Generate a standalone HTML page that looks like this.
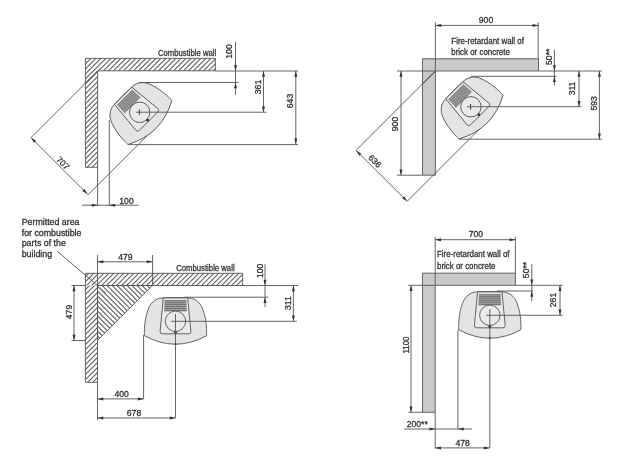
<!DOCTYPE html>
<html><head><meta charset="utf-8"><style>
html,body{margin:0;padding:0;background:#fff;width:624px;height:460px;overflow:hidden}
svg{display:block}
text{font-family:"Liberation Sans",sans-serif;stroke:#333;stroke-width:0.3px}
svg{filter:grayscale(1) blur(0.3px)}
</style></head><body>
<svg width="624" height="460" viewBox="0 0 624 460">
<defs><clipPath id="tlw"><polygon points="85.40,58.40 215.40,58.40 215.40,70.80 97.70,70.80 97.70,167.30 85.40,167.30"/></clipPath><clipPath id="blw"><polygon points="85.40,273.30 242.70,273.30 242.70,285.50 85.40,285.50"/></clipPath><clipPath id="blw2"><polygon points="85.40,285.50 97.50,285.50 97.50,382.30 85.40,382.30"/></clipPath><clipPath id="blt"><polygon points="97.50,285.50 152.40,285.50 97.50,340.40"/></clipPath></defs>
<rect width="624" height="460" fill="#fff"/>
<polygon points="85.4,58.4 215.4,58.4 215.4,70.8 97.7,70.8 97.7,167.3 85.4,167.3" fill="#fff"/>
<g clip-path="url(#tlw)" stroke="#5a5a5a" stroke-width="1.05">
<line x1="81.90" y1="57.40" x2="-29.00" y2="168.30"/>
<line x1="86.90" y1="57.40" x2="-24.00" y2="168.30"/>
<line x1="91.90" y1="57.40" x2="-19.00" y2="168.30"/>
<line x1="96.90" y1="57.40" x2="-14.00" y2="168.30"/>
<line x1="101.90" y1="57.40" x2="-9.00" y2="168.30"/>
<line x1="106.90" y1="57.40" x2="-4.00" y2="168.30"/>
<line x1="111.90" y1="57.40" x2="1.00" y2="168.30"/>
<line x1="116.90" y1="57.40" x2="6.00" y2="168.30"/>
<line x1="121.90" y1="57.40" x2="11.00" y2="168.30"/>
<line x1="126.90" y1="57.40" x2="16.00" y2="168.30"/>
<line x1="131.90" y1="57.40" x2="21.00" y2="168.30"/>
<line x1="136.90" y1="57.40" x2="26.00" y2="168.30"/>
<line x1="141.90" y1="57.40" x2="31.00" y2="168.30"/>
<line x1="146.90" y1="57.40" x2="36.00" y2="168.30"/>
<line x1="151.90" y1="57.40" x2="41.00" y2="168.30"/>
<line x1="156.90" y1="57.40" x2="46.00" y2="168.30"/>
<line x1="161.90" y1="57.40" x2="51.00" y2="168.30"/>
<line x1="166.90" y1="57.40" x2="56.00" y2="168.30"/>
<line x1="171.90" y1="57.40" x2="61.00" y2="168.30"/>
<line x1="176.90" y1="57.40" x2="66.00" y2="168.30"/>
<line x1="181.90" y1="57.40" x2="71.00" y2="168.30"/>
<line x1="186.90" y1="57.40" x2="76.00" y2="168.30"/>
<line x1="191.90" y1="57.40" x2="81.00" y2="168.30"/>
<line x1="196.90" y1="57.40" x2="86.00" y2="168.30"/>
<line x1="201.90" y1="57.40" x2="91.00" y2="168.30"/>
<line x1="206.90" y1="57.40" x2="96.00" y2="168.30"/>
<line x1="211.90" y1="57.40" x2="101.00" y2="168.30"/>
<line x1="216.90" y1="57.40" x2="106.00" y2="168.30"/>
<line x1="221.90" y1="57.40" x2="111.00" y2="168.30"/>
<line x1="226.90" y1="57.40" x2="116.00" y2="168.30"/>
<line x1="231.90" y1="57.40" x2="121.00" y2="168.30"/>
<line x1="236.90" y1="57.40" x2="126.00" y2="168.30"/>
<line x1="241.90" y1="57.40" x2="131.00" y2="168.30"/>
<line x1="246.90" y1="57.40" x2="136.00" y2="168.30"/>
<line x1="251.90" y1="57.40" x2="141.00" y2="168.30"/>
<line x1="256.90" y1="57.40" x2="146.00" y2="168.30"/>
<line x1="261.90" y1="57.40" x2="151.00" y2="168.30"/>
<line x1="266.90" y1="57.40" x2="156.00" y2="168.30"/>
<line x1="271.90" y1="57.40" x2="161.00" y2="168.30"/>
<line x1="276.90" y1="57.40" x2="166.00" y2="168.30"/>
<line x1="281.90" y1="57.40" x2="171.00" y2="168.30"/>
<line x1="286.90" y1="57.40" x2="176.00" y2="168.30"/>
<line x1="291.90" y1="57.40" x2="181.00" y2="168.30"/>
<line x1="296.90" y1="57.40" x2="186.00" y2="168.30"/>
<line x1="301.90" y1="57.40" x2="191.00" y2="168.30"/>
<line x1="306.90" y1="57.40" x2="196.00" y2="168.30"/>
<line x1="311.90" y1="57.40" x2="201.00" y2="168.30"/>
<line x1="316.90" y1="57.40" x2="206.00" y2="168.30"/>
<line x1="321.90" y1="57.40" x2="211.00" y2="168.30"/>
</g>
<polygon points="85.40,58.40 215.40,58.40 215.40,70.80 97.70,70.80 97.70,167.30 85.40,167.30" fill="none" stroke="#555" stroke-width="0.9"/>
<line x1="97.60" y1="71.00" x2="31.00" y2="137.60" stroke="#555" stroke-width="0.9"/>
<line x1="97.60" y1="71.00" x2="85.40" y2="83.20" stroke="#444" stroke-width="0.9"/>
<line x1="87.40" y1="195.40" x2="157.50" y2="125.30" stroke="#555" stroke-width="0.9"/>
<g transform="translate(139.70,112.30) rotate(-45)"><path d="M0,-23.8 C1.67,-23.75 7.33,-23.63 10.00,-23.50 C12.67,-23.37 14.33,-23.37 16.00,-23.00 C17.67,-22.63 18.75,-22.05 20.00,-21.30 C21.25,-20.55 22.45,-19.63 23.50,-18.50 C24.55,-17.37 25.50,-16.08 26.30,-14.50 C27.10,-12.92 27.72,-10.92 28.30,-9.00 C28.88,-7.08 29.38,-5.17 29.80,-3.00 C30.22,-0.83 30.58,1.83 30.80,4.00 C31.02,6.17 31.05,8.27 31.10,10.00 C31.15,11.73 31.10,13.67 31.10,14.40 Q0,31.4 -31.1,14.4 C-31.10,13.67 -31.15,11.73 -31.10,10.00 C-31.05,8.27 -31.02,6.17 -30.80,4.00 C-30.58,1.83 -30.22,-0.83 -29.80,-3.00 C-29.38,-5.17 -28.88,-7.08 -28.30,-9.00 C-27.72,-10.92 -27.10,-12.92 -26.30,-14.50 C-25.50,-16.08 -24.55,-17.37 -23.50,-18.50 C-22.45,-19.63 -21.25,-20.55 -20.00,-21.30 C-18.75,-22.05 -17.67,-22.63 -16.00,-23.00 C-14.33,-23.37 -12.67,-23.37 -10.00,-23.50 C-7.33,-23.63 -1.67,-23.75 0.00,-23.80 Z" fill="#e4e4e5" stroke="#555" stroke-width="0.9"/><path d="M-12.2,-23.4 L12.2,-23.4 L15.4,10 Q15.6,12.5 13,12.5 L-13,12.5 Q-15.6,12.5 -15.4,10 Z" fill="#eaeaea" stroke="#555" stroke-width="0.9"/><path d="M-10.6,-21.3 L10.6,-21.3 L11.4,-9.8 L-11.4,-9.8 Z" fill="#a0a0a0"/><line x1="-11" y1="-20.60" x2="11" y2="-20.60" stroke="#6a6a6a" stroke-width="0.8"/><line x1="-11" y1="-18.65" x2="11" y2="-18.65" stroke="#6a6a6a" stroke-width="0.8"/><line x1="-11" y1="-16.70" x2="11" y2="-16.70" stroke="#6a6a6a" stroke-width="0.8"/><line x1="-11" y1="-14.75" x2="11" y2="-14.75" stroke="#6a6a6a" stroke-width="0.8"/><line x1="-11" y1="-12.80" x2="11" y2="-12.80" stroke="#6a6a6a" stroke-width="0.8"/><line x1="-11" y1="-10.85" x2="11" y2="-10.85" stroke="#6a6a6a" stroke-width="0.8"/><circle cx="0" cy="0" r="10.2" fill="#eaeaea" stroke="#555" stroke-width="0.9"/><circle cx="0" cy="11.3" r="1.4" fill="#333"/></g>
<line x1="139.40" y1="109.30" x2="139.40" y2="114.80" stroke="#333" stroke-width="1"/>
<line x1="139.00" y1="82.50" x2="238.50" y2="82.50" stroke="#555" stroke-width="0.9"/>
<line x1="215.40" y1="71.00" x2="298.00" y2="71.00" stroke="#555" stroke-width="0.9"/>
<line x1="136.00" y1="112.20" x2="266.70" y2="112.20" stroke="#555" stroke-width="0.9"/>
<line x1="128.00" y1="144.60" x2="298.00" y2="144.60" stroke="#555" stroke-width="0.9"/>
<line x1="235.50" y1="41.50" x2="235.50" y2="94.80" stroke="#555" stroke-width="0.9"/>
<path d="M235.50,71.00 L234.00,65.20 L237.00,65.20 Z" fill="#333"/>
<path d="M235.50,82.50 L237.00,88.30 L234.00,88.30 Z" fill="#333"/>
<text transform="translate(232.30,51.50) rotate(-90)" font-size="8.6" text-anchor="middle" fill="#333">100</text>
<line x1="263.50" y1="71.00" x2="263.50" y2="112.20" stroke="#555" stroke-width="0.9"/>
<path d="M263.50,71.00 L265.00,76.80 L262.00,76.80 Z" fill="#333"/>
<path d="M263.50,112.20 L262.00,106.40 L265.00,106.40 Z" fill="#333"/>
<text transform="translate(260.50,87.00) rotate(-90)" font-size="8.6" text-anchor="middle" fill="#333">361</text>
<line x1="295.80" y1="71.00" x2="295.80" y2="144.30" stroke="#555" stroke-width="0.9"/>
<path d="M295.80,71.00 L297.30,76.80 L294.30,76.80 Z" fill="#333"/>
<path d="M295.80,144.30 L294.30,138.50 L297.30,138.50 Z" fill="#333"/>
<text transform="translate(292.50,101.00) rotate(-90)" font-size="8.6" text-anchor="middle" fill="#333">643</text>
<text transform="translate(216.30,55.80) scale(0.86,1)" font-size="9" text-anchor="end" fill="#333">Combustible wall</text>
<line x1="31.00" y1="137.60" x2="87.40" y2="194.00" stroke="#555" stroke-width="0.9"/>
<path d="M31.00,137.60 L36.16,140.64 L34.04,142.76 Z" fill="#333"/>
<path d="M87.40,194.00 L82.24,190.96 L84.36,188.84 Z" fill="#333"/>
<text transform="translate(60.70,165.30) rotate(45)" font-size="8.6" text-anchor="middle" fill="#333">707</text>
<line x1="97.60" y1="167.40" x2="97.60" y2="206.00" stroke="#555" stroke-width="0.9"/>
<line x1="109.30" y1="120.00" x2="109.30" y2="206.00" stroke="#555" stroke-width="0.9"/>
<line x1="82.00" y1="205.20" x2="138.50" y2="205.20" stroke="#555" stroke-width="0.9"/>
<path d="M97.60,205.20 L91.80,206.70 L91.80,203.70 Z" fill="#333"/>
<path d="M109.30,205.20 L115.10,203.70 L115.10,206.70 Z" fill="#333"/>
<text transform="translate(126.50,203.60)" font-size="8.6" text-anchor="middle" fill="#333">100</text>
<polygon points="422.50,58.80 538.50,58.80 538.50,71.00 435.40,71.00 435.40,175.20 422.50,175.20" fill="#cacacb" stroke="#555" stroke-width="0.9"/>
<line x1="422.50" y1="71.00" x2="435.40" y2="71.00" stroke="#555" stroke-width="0.9"/>
<line x1="435.40" y1="22.50" x2="435.40" y2="71.00" stroke="#555" stroke-width="0.9"/>
<line x1="538.20" y1="22.50" x2="538.20" y2="58.80" stroke="#555" stroke-width="0.9"/>
<line x1="435.40" y1="25.40" x2="538.50" y2="25.40" stroke="#555" stroke-width="0.9"/>
<path d="M435.40,25.40 L441.20,23.90 L441.20,26.90 Z" fill="#333"/>
<path d="M538.50,25.40 L532.70,26.90 L532.70,23.90 Z" fill="#333"/>
<text transform="translate(486.00,23.30)" font-size="8.6" text-anchor="middle" fill="#333">900</text>
<text transform="translate(451.30,43.50) scale(0.88,1)" font-size="9" text-anchor="start" fill="#333">Fire-retardant wall of</text>
<text transform="translate(451.30,54.80) scale(0.88,1)" font-size="9" text-anchor="start" fill="#333">brick or concrete</text>
<line x1="397.00" y1="71.00" x2="422.50" y2="71.00" stroke="#555" stroke-width="0.9"/>
<line x1="397.00" y1="175.20" x2="422.50" y2="175.20" stroke="#555" stroke-width="0.9"/>
<line x1="401.00" y1="71.00" x2="401.00" y2="175.20" stroke="#555" stroke-width="0.9"/>
<path d="M401.00,71.00 L402.50,76.80 L399.50,76.80 Z" fill="#333"/>
<path d="M401.00,175.20 L399.50,169.40 L402.50,169.40 Z" fill="#333"/>
<text transform="translate(398.00,124.00) rotate(-90)" font-size="8.6" text-anchor="middle" fill="#333">900</text>
<line x1="435.40" y1="71.00" x2="356.20" y2="150.20" stroke="#555" stroke-width="0.9"/>
<line x1="435.40" y1="71.00" x2="422.50" y2="83.90" stroke="#444" stroke-width="0.9"/>
<line x1="407.20" y1="201.30" x2="488.00" y2="120.50" stroke="#555" stroke-width="0.9"/>
<g transform="translate(470.90,106.80) rotate(-45)"><path d="M0,-23.8 C1.67,-23.75 7.33,-23.63 10.00,-23.50 C12.67,-23.37 14.33,-23.37 16.00,-23.00 C17.67,-22.63 18.75,-22.05 20.00,-21.30 C21.25,-20.55 22.45,-19.63 23.50,-18.50 C24.55,-17.37 25.50,-16.08 26.30,-14.50 C27.10,-12.92 27.72,-10.92 28.30,-9.00 C28.88,-7.08 29.38,-5.17 29.80,-3.00 C30.22,-0.83 30.58,1.83 30.80,4.00 C31.02,6.17 31.05,8.27 31.10,10.00 C31.15,11.73 31.10,13.67 31.10,14.40 Q0,31.4 -31.1,14.4 C-31.10,13.67 -31.15,11.73 -31.10,10.00 C-31.05,8.27 -31.02,6.17 -30.80,4.00 C-30.58,1.83 -30.22,-0.83 -29.80,-3.00 C-29.38,-5.17 -28.88,-7.08 -28.30,-9.00 C-27.72,-10.92 -27.10,-12.92 -26.30,-14.50 C-25.50,-16.08 -24.55,-17.37 -23.50,-18.50 C-22.45,-19.63 -21.25,-20.55 -20.00,-21.30 C-18.75,-22.05 -17.67,-22.63 -16.00,-23.00 C-14.33,-23.37 -12.67,-23.37 -10.00,-23.50 C-7.33,-23.63 -1.67,-23.75 0.00,-23.80 Z" fill="#e4e4e5" stroke="#555" stroke-width="0.9"/><path d="M-12.2,-23.4 L12.2,-23.4 L15.4,10 Q15.6,12.5 13,12.5 L-13,12.5 Q-15.6,12.5 -15.4,10 Z" fill="#eaeaea" stroke="#555" stroke-width="0.9"/><path d="M-10.6,-21.3 L10.6,-21.3 L11.4,-9.8 L-11.4,-9.8 Z" fill="#a0a0a0"/><line x1="-11" y1="-20.60" x2="11" y2="-20.60" stroke="#6a6a6a" stroke-width="0.8"/><line x1="-11" y1="-18.65" x2="11" y2="-18.65" stroke="#6a6a6a" stroke-width="0.8"/><line x1="-11" y1="-16.70" x2="11" y2="-16.70" stroke="#6a6a6a" stroke-width="0.8"/><line x1="-11" y1="-14.75" x2="11" y2="-14.75" stroke="#6a6a6a" stroke-width="0.8"/><line x1="-11" y1="-12.80" x2="11" y2="-12.80" stroke="#6a6a6a" stroke-width="0.8"/><line x1="-11" y1="-10.85" x2="11" y2="-10.85" stroke="#6a6a6a" stroke-width="0.8"/><circle cx="0" cy="0" r="10.2" fill="#eaeaea" stroke="#555" stroke-width="0.9"/><circle cx="0" cy="11.3" r="1.4" fill="#333"/></g>
<line x1="470.60" y1="104.00" x2="470.60" y2="109.60" stroke="#333" stroke-width="1"/>
<line x1="538.50" y1="71.00" x2="601.80" y2="71.00" stroke="#555" stroke-width="0.9"/>
<line x1="471.00" y1="76.30" x2="556.30" y2="76.30" stroke="#555" stroke-width="0.9"/>
<line x1="467.00" y1="106.70" x2="581.40" y2="106.70" stroke="#555" stroke-width="0.9"/>
<line x1="459.00" y1="139.20" x2="601.80" y2="139.20" stroke="#555" stroke-width="0.9"/>
<line x1="554.40" y1="49.60" x2="554.40" y2="85.50" stroke="#555" stroke-width="0.9"/>
<path d="M554.40,71.00 L552.90,65.20 L555.90,65.20 Z" fill="#333"/>
<path d="M554.40,76.30 L555.90,82.10 L552.90,82.10 Z" fill="#333"/>
<text transform="translate(552.30,56.80) rotate(-90)" font-size="8.6" text-anchor="middle" fill="#333">50**</text>
<line x1="579.00" y1="71.00" x2="579.00" y2="106.70" stroke="#555" stroke-width="0.9"/>
<path d="M579.00,71.00 L580.50,76.80 L577.50,76.80 Z" fill="#333"/>
<path d="M579.00,106.70 L577.50,100.90 L580.50,100.90 Z" fill="#333"/>
<text transform="translate(575.00,88.50) rotate(-90)" font-size="8.6" text-anchor="middle" fill="#333">311</text>
<line x1="599.40" y1="71.00" x2="599.40" y2="139.20" stroke="#555" stroke-width="0.9"/>
<path d="M599.40,71.00 L600.90,76.80 L597.90,76.80 Z" fill="#333"/>
<path d="M599.40,139.20 L597.90,133.40 L600.90,133.40 Z" fill="#333"/>
<text transform="translate(596.50,103.40) rotate(-90)" font-size="8.6" text-anchor="middle" fill="#333">593</text>
<line x1="356.20" y1="150.60" x2="407.20" y2="201.30" stroke="#555" stroke-width="0.9"/>
<path d="M356.20,150.60 L361.36,153.64 L359.24,155.76 Z" fill="#333"/>
<path d="M407.20,201.30 L402.04,198.26 L404.16,196.14 Z" fill="#333"/>
<text transform="translate(372.70,163.20) rotate(45)" font-size="8.6" text-anchor="middle" fill="#333">636</text>
<polygon points="85.4,273.3 242.7,273.3 242.7,285.5 97.5,285.5 97.5,382.3 85.4,382.3" fill="#fff"/>
<g clip-path="url(#blw)" stroke="#5a5a5a" stroke-width="1.05">
<line x1="84.80" y1="272.30" x2="70.60" y2="286.50"/>
<line x1="89.80" y1="272.30" x2="75.60" y2="286.50"/>
<line x1="94.80" y1="272.30" x2="80.60" y2="286.50"/>
<line x1="99.80" y1="272.30" x2="85.60" y2="286.50"/>
<line x1="104.80" y1="272.30" x2="90.60" y2="286.50"/>
<line x1="109.80" y1="272.30" x2="95.60" y2="286.50"/>
<line x1="114.80" y1="272.30" x2="100.60" y2="286.50"/>
<line x1="119.80" y1="272.30" x2="105.60" y2="286.50"/>
<line x1="124.80" y1="272.30" x2="110.60" y2="286.50"/>
<line x1="129.80" y1="272.30" x2="115.60" y2="286.50"/>
<line x1="134.80" y1="272.30" x2="120.60" y2="286.50"/>
<line x1="139.80" y1="272.30" x2="125.60" y2="286.50"/>
<line x1="144.80" y1="272.30" x2="130.60" y2="286.50"/>
<line x1="149.80" y1="272.30" x2="135.60" y2="286.50"/>
<line x1="154.80" y1="272.30" x2="140.60" y2="286.50"/>
<line x1="159.80" y1="272.30" x2="145.60" y2="286.50"/>
<line x1="164.80" y1="272.30" x2="150.60" y2="286.50"/>
<line x1="169.80" y1="272.30" x2="155.60" y2="286.50"/>
<line x1="174.80" y1="272.30" x2="160.60" y2="286.50"/>
<line x1="179.80" y1="272.30" x2="165.60" y2="286.50"/>
<line x1="184.80" y1="272.30" x2="170.60" y2="286.50"/>
<line x1="189.80" y1="272.30" x2="175.60" y2="286.50"/>
<line x1="194.80" y1="272.30" x2="180.60" y2="286.50"/>
<line x1="199.80" y1="272.30" x2="185.60" y2="286.50"/>
<line x1="204.80" y1="272.30" x2="190.60" y2="286.50"/>
<line x1="209.80" y1="272.30" x2="195.60" y2="286.50"/>
<line x1="214.80" y1="272.30" x2="200.60" y2="286.50"/>
<line x1="219.80" y1="272.30" x2="205.60" y2="286.50"/>
<line x1="224.80" y1="272.30" x2="210.60" y2="286.50"/>
<line x1="229.80" y1="272.30" x2="215.60" y2="286.50"/>
<line x1="234.80" y1="272.30" x2="220.60" y2="286.50"/>
<line x1="239.80" y1="272.30" x2="225.60" y2="286.50"/>
<line x1="244.80" y1="272.30" x2="230.60" y2="286.50"/>
<line x1="249.80" y1="272.30" x2="235.60" y2="286.50"/>
<line x1="254.80" y1="272.30" x2="240.60" y2="286.50"/>
</g>
<g clip-path="url(#blw2)" stroke="#5a5a5a" stroke-width="1.05">
<line x1="85.50" y1="284.50" x2="-13.30" y2="383.30"/>
<line x1="90.50" y1="284.50" x2="-8.30" y2="383.30"/>
<line x1="95.50" y1="284.50" x2="-3.30" y2="383.30"/>
<line x1="100.50" y1="284.50" x2="1.70" y2="383.30"/>
<line x1="105.50" y1="284.50" x2="6.70" y2="383.30"/>
<line x1="110.50" y1="284.50" x2="11.70" y2="383.30"/>
<line x1="115.50" y1="284.50" x2="16.70" y2="383.30"/>
<line x1="120.50" y1="284.50" x2="21.70" y2="383.30"/>
<line x1="125.50" y1="284.50" x2="26.70" y2="383.30"/>
<line x1="130.50" y1="284.50" x2="31.70" y2="383.30"/>
<line x1="135.50" y1="284.50" x2="36.70" y2="383.30"/>
<line x1="140.50" y1="284.50" x2="41.70" y2="383.30"/>
<line x1="145.50" y1="284.50" x2="46.70" y2="383.30"/>
<line x1="150.50" y1="284.50" x2="51.70" y2="383.30"/>
<line x1="155.50" y1="284.50" x2="56.70" y2="383.30"/>
<line x1="160.50" y1="284.50" x2="61.70" y2="383.30"/>
<line x1="165.50" y1="284.50" x2="66.70" y2="383.30"/>
<line x1="170.50" y1="284.50" x2="71.70" y2="383.30"/>
<line x1="175.50" y1="284.50" x2="76.70" y2="383.30"/>
<line x1="180.50" y1="284.50" x2="81.70" y2="383.30"/>
<line x1="185.50" y1="284.50" x2="86.70" y2="383.30"/>
<line x1="190.50" y1="284.50" x2="91.70" y2="383.30"/>
</g>
<g clip-path="url(#blt)" stroke="#5a5a5a" stroke-width="1.05">
<line x1="41.10" y1="284.50" x2="98.00" y2="341.40"/>
<line x1="46.10" y1="284.50" x2="103.00" y2="341.40"/>
<line x1="51.10" y1="284.50" x2="108.00" y2="341.40"/>
<line x1="56.10" y1="284.50" x2="113.00" y2="341.40"/>
<line x1="61.10" y1="284.50" x2="118.00" y2="341.40"/>
<line x1="66.10" y1="284.50" x2="123.00" y2="341.40"/>
<line x1="71.10" y1="284.50" x2="128.00" y2="341.40"/>
<line x1="76.10" y1="284.50" x2="133.00" y2="341.40"/>
<line x1="81.10" y1="284.50" x2="138.00" y2="341.40"/>
<line x1="86.10" y1="284.50" x2="143.00" y2="341.40"/>
<line x1="91.10" y1="284.50" x2="148.00" y2="341.40"/>
<line x1="96.10" y1="284.50" x2="153.00" y2="341.40"/>
<line x1="101.10" y1="284.50" x2="158.00" y2="341.40"/>
<line x1="106.10" y1="284.50" x2="163.00" y2="341.40"/>
<line x1="111.10" y1="284.50" x2="168.00" y2="341.40"/>
<line x1="116.10" y1="284.50" x2="173.00" y2="341.40"/>
<line x1="121.10" y1="284.50" x2="178.00" y2="341.40"/>
<line x1="126.10" y1="284.50" x2="183.00" y2="341.40"/>
<line x1="131.10" y1="284.50" x2="188.00" y2="341.40"/>
<line x1="136.10" y1="284.50" x2="193.00" y2="341.40"/>
<line x1="141.10" y1="284.50" x2="198.00" y2="341.40"/>
<line x1="146.10" y1="284.50" x2="203.00" y2="341.40"/>
<line x1="151.10" y1="284.50" x2="208.00" y2="341.40"/>
</g>
<polygon points="85.40,273.30 242.70,273.30 242.70,285.50 97.50,285.50 97.50,382.30 85.40,382.30" fill="none" stroke="#555" stroke-width="0.9"/>
<polygon points="97.50,285.50 152.40,285.50 97.50,340.40" fill="none" stroke="#555" stroke-width="0.9"/>
<line x1="57.00" y1="251.00" x2="97.50" y2="285.50" stroke="#555" stroke-width="0.9"/>
<line x1="97.50" y1="285.50" x2="106.00" y2="292.80" stroke="#999" stroke-width="0.9"/>
<text transform="translate(21.70,224.80) scale(0.98,1)" font-size="9" text-anchor="start" fill="#333">Permitted area</text>
<text transform="translate(21.70,235.50) scale(0.98,1)" font-size="9" text-anchor="start" fill="#333">for combustible</text>
<text transform="translate(21.70,246.20) scale(0.98,1)" font-size="9" text-anchor="start" fill="#333">parts of the</text>
<text transform="translate(21.70,256.90) scale(0.98,1)" font-size="9" text-anchor="start" fill="#333">building</text>
<line x1="97.50" y1="255.00" x2="97.50" y2="285.50" stroke="#555" stroke-width="0.9"/>
<line x1="152.60" y1="255.00" x2="152.60" y2="285.50" stroke="#555" stroke-width="0.9"/>
<line x1="97.50" y1="261.80" x2="152.60" y2="261.80" stroke="#555" stroke-width="0.9"/>
<path d="M97.50,261.80 L103.30,260.30 L103.30,263.30 Z" fill="#333"/>
<path d="M152.60,261.80 L146.80,263.30 L146.80,260.30 Z" fill="#333"/>
<text transform="translate(125.30,259.60)" font-size="8.6" text-anchor="middle" fill="#333">479</text>
<line x1="71.50" y1="285.50" x2="85.40" y2="285.50" stroke="#555" stroke-width="0.9"/>
<line x1="71.50" y1="340.60" x2="85.40" y2="340.60" stroke="#555" stroke-width="0.9"/>
<line x1="74.00" y1="285.50" x2="74.00" y2="340.60" stroke="#555" stroke-width="0.9"/>
<path d="M74.00,285.50 L75.50,291.30 L72.50,291.30 Z" fill="#333"/>
<path d="M74.00,340.60 L72.50,334.80 L75.50,334.80 Z" fill="#333"/>
<text transform="translate(71.50,312.00) rotate(-90)" font-size="8.6" text-anchor="middle" fill="#333">479</text>
<g transform="translate(175.50,321.30) rotate(0)"><path d="M0,-23.8 C1.67,-23.75 7.33,-23.63 10.00,-23.50 C12.67,-23.37 14.33,-23.37 16.00,-23.00 C17.67,-22.63 18.75,-22.05 20.00,-21.30 C21.25,-20.55 22.45,-19.63 23.50,-18.50 C24.55,-17.37 25.50,-16.08 26.30,-14.50 C27.10,-12.92 27.72,-10.92 28.30,-9.00 C28.88,-7.08 29.38,-5.17 29.80,-3.00 C30.22,-0.83 30.58,1.83 30.80,4.00 C31.02,6.17 31.05,8.27 31.10,10.00 C31.15,11.73 31.10,13.67 31.10,14.40 Q0,31.4 -31.1,14.4 C-31.10,13.67 -31.15,11.73 -31.10,10.00 C-31.05,8.27 -31.02,6.17 -30.80,4.00 C-30.58,1.83 -30.22,-0.83 -29.80,-3.00 C-29.38,-5.17 -28.88,-7.08 -28.30,-9.00 C-27.72,-10.92 -27.10,-12.92 -26.30,-14.50 C-25.50,-16.08 -24.55,-17.37 -23.50,-18.50 C-22.45,-19.63 -21.25,-20.55 -20.00,-21.30 C-18.75,-22.05 -17.67,-22.63 -16.00,-23.00 C-14.33,-23.37 -12.67,-23.37 -10.00,-23.50 C-7.33,-23.63 -1.67,-23.75 0.00,-23.80 Z" fill="#e4e4e5" stroke="#555" stroke-width="0.9"/><path d="M-12.2,-23.4 L12.2,-23.4 L15.4,10 Q15.6,12.5 13,12.5 L-13,12.5 Q-15.6,12.5 -15.4,10 Z" fill="#eaeaea" stroke="#555" stroke-width="0.9"/><path d="M-10.6,-21.3 L10.6,-21.3 L11.4,-9.8 L-11.4,-9.8 Z" fill="#a0a0a0"/><line x1="-11" y1="-20.60" x2="11" y2="-20.60" stroke="#6a6a6a" stroke-width="0.8"/><line x1="-11" y1="-18.65" x2="11" y2="-18.65" stroke="#6a6a6a" stroke-width="0.8"/><line x1="-11" y1="-16.70" x2="11" y2="-16.70" stroke="#6a6a6a" stroke-width="0.8"/><line x1="-11" y1="-14.75" x2="11" y2="-14.75" stroke="#6a6a6a" stroke-width="0.8"/><line x1="-11" y1="-12.80" x2="11" y2="-12.80" stroke="#6a6a6a" stroke-width="0.8"/><line x1="-11" y1="-10.85" x2="11" y2="-10.85" stroke="#6a6a6a" stroke-width="0.8"/><circle cx="0" cy="0" r="10.2" fill="#eaeaea" stroke="#555" stroke-width="0.9"/><circle cx="0" cy="11.3" r="1.4" fill="#333"/></g>
<circle cx="175.5" cy="344.2" r="1.1" fill="#444"/>
<line x1="171.30" y1="321.30" x2="296.80" y2="321.30" stroke="#555" stroke-width="0.9"/>
<line x1="184.30" y1="297.20" x2="268.20" y2="297.20" stroke="#555" stroke-width="0.9"/>
<line x1="242.70" y1="285.50" x2="298.00" y2="285.50" stroke="#555" stroke-width="0.9"/>
<text transform="translate(234.60,270.80) scale(0.86,1)" font-size="9" text-anchor="end" fill="#333">Combustible wall</text>
<line x1="265.00" y1="264.30" x2="265.00" y2="307.00" stroke="#555" stroke-width="0.9"/>
<path d="M265.00,285.50 L263.50,279.70 L266.50,279.70 Z" fill="#333"/>
<path d="M265.00,297.20 L266.50,303.00 L263.50,303.00 Z" fill="#333"/>
<text transform="translate(263.00,270.80) rotate(-90)" font-size="8.6" text-anchor="middle" fill="#333">100</text>
<line x1="293.40" y1="285.50" x2="293.40" y2="321.30" stroke="#555" stroke-width="0.9"/>
<path d="M293.40,285.50 L294.90,291.30 L291.90,291.30 Z" fill="#333"/>
<path d="M293.40,321.30 L291.90,315.50 L294.90,315.50 Z" fill="#333"/>
<text transform="translate(290.50,303.20) rotate(-90)" font-size="8.6" text-anchor="middle" fill="#333">311</text>
<line x1="97.50" y1="382.30" x2="97.50" y2="420.00" stroke="#555" stroke-width="0.9"/>
<line x1="143.60" y1="335.00" x2="143.60" y2="399.00" stroke="#555" stroke-width="0.9"/>
<line x1="175.50" y1="314.00" x2="175.50" y2="418.00" stroke="#555" stroke-width="0.9"/>
<line x1="97.50" y1="398.90" x2="143.60" y2="398.90" stroke="#555" stroke-width="0.9"/>
<path d="M97.50,398.90 L103.30,397.40 L103.30,400.40 Z" fill="#333"/>
<path d="M143.60,398.90 L137.80,400.40 L137.80,397.40 Z" fill="#333"/>
<text transform="translate(121.70,396.70)" font-size="8.6" text-anchor="middle" fill="#333">400</text>
<line x1="97.50" y1="418.00" x2="175.50" y2="418.00" stroke="#555" stroke-width="0.9"/>
<path d="M97.50,418.00 L103.30,416.50 L103.30,419.50 Z" fill="#333"/>
<path d="M175.50,418.00 L169.70,419.50 L169.70,416.50 Z" fill="#333"/>
<text transform="translate(134.00,415.70)" font-size="8.6" text-anchor="middle" fill="#333">678</text>
<polygon points="422.50,273.20 515.40,273.20 515.40,285.30 435.20,285.30 435.20,412.30 422.50,412.30" fill="#cacacb" stroke="#555" stroke-width="0.9"/>
<line x1="422.50" y1="285.30" x2="435.20" y2="285.30" stroke="#555" stroke-width="0.9"/>
<line x1="435.20" y1="237.00" x2="435.20" y2="285.30" stroke="#555" stroke-width="0.9"/>
<line x1="515.40" y1="237.00" x2="515.40" y2="273.20" stroke="#555" stroke-width="0.9"/>
<line x1="435.20" y1="239.70" x2="515.40" y2="239.70" stroke="#555" stroke-width="0.9"/>
<path d="M435.20,239.70 L441.00,238.20 L441.00,241.20 Z" fill="#333"/>
<path d="M515.40,239.70 L509.60,241.20 L509.60,238.20 Z" fill="#333"/>
<text transform="translate(475.80,237.30)" font-size="8.6" text-anchor="middle" fill="#333">700</text>
<text transform="translate(437.00,257.30) scale(0.88,1)" font-size="9" text-anchor="start" fill="#333">Fire-retardant wall of</text>
<text transform="translate(437.00,269.20) scale(0.88,1)" font-size="9" text-anchor="start" fill="#333">brick or concrete</text>
<line x1="408.40" y1="285.30" x2="422.50" y2="285.30" stroke="#555" stroke-width="0.9"/>
<line x1="408.50" y1="412.30" x2="422.50" y2="412.30" stroke="#555" stroke-width="0.9"/>
<line x1="411.00" y1="285.30" x2="411.00" y2="412.30" stroke="#555" stroke-width="0.9"/>
<path d="M411.00,285.30 L412.50,291.10 L409.50,291.10 Z" fill="#333"/>
<path d="M411.00,412.30 L409.50,406.50 L412.50,406.50 Z" fill="#333"/>
<text transform="translate(409.00,345.00) rotate(-90) scale(0.92,1)" font-size="8.6" text-anchor="middle" fill="#333">1100</text>
<g transform="translate(489.80,315.30) rotate(0)"><path d="M0,-23.8 C1.67,-23.75 7.33,-23.63 10.00,-23.50 C12.67,-23.37 14.33,-23.37 16.00,-23.00 C17.67,-22.63 18.75,-22.05 20.00,-21.30 C21.25,-20.55 22.45,-19.63 23.50,-18.50 C24.55,-17.37 25.50,-16.08 26.30,-14.50 C27.10,-12.92 27.72,-10.92 28.30,-9.00 C28.88,-7.08 29.38,-5.17 29.80,-3.00 C30.22,-0.83 30.58,1.83 30.80,4.00 C31.02,6.17 31.05,8.27 31.10,10.00 C31.15,11.73 31.10,13.67 31.10,14.40 Q0,31.4 -31.1,14.4 C-31.10,13.67 -31.15,11.73 -31.10,10.00 C-31.05,8.27 -31.02,6.17 -30.80,4.00 C-30.58,1.83 -30.22,-0.83 -29.80,-3.00 C-29.38,-5.17 -28.88,-7.08 -28.30,-9.00 C-27.72,-10.92 -27.10,-12.92 -26.30,-14.50 C-25.50,-16.08 -24.55,-17.37 -23.50,-18.50 C-22.45,-19.63 -21.25,-20.55 -20.00,-21.30 C-18.75,-22.05 -17.67,-22.63 -16.00,-23.00 C-14.33,-23.37 -12.67,-23.37 -10.00,-23.50 C-7.33,-23.63 -1.67,-23.75 0.00,-23.80 Z" fill="#e4e4e5" stroke="#555" stroke-width="0.9"/><path d="M-12.2,-23.4 L12.2,-23.4 L15.4,10 Q15.6,12.5 13,12.5 L-13,12.5 Q-15.6,12.5 -15.4,10 Z" fill="#eaeaea" stroke="#555" stroke-width="0.9"/><path d="M-10.6,-21.3 L10.6,-21.3 L11.4,-9.8 L-11.4,-9.8 Z" fill="#a0a0a0"/><line x1="-11" y1="-20.60" x2="11" y2="-20.60" stroke="#6a6a6a" stroke-width="0.8"/><line x1="-11" y1="-18.65" x2="11" y2="-18.65" stroke="#6a6a6a" stroke-width="0.8"/><line x1="-11" y1="-16.70" x2="11" y2="-16.70" stroke="#6a6a6a" stroke-width="0.8"/><line x1="-11" y1="-14.75" x2="11" y2="-14.75" stroke="#6a6a6a" stroke-width="0.8"/><line x1="-11" y1="-12.80" x2="11" y2="-12.80" stroke="#6a6a6a" stroke-width="0.8"/><line x1="-11" y1="-10.85" x2="11" y2="-10.85" stroke="#6a6a6a" stroke-width="0.8"/><circle cx="0" cy="0" r="10.2" fill="#eaeaea" stroke="#555" stroke-width="0.9"/><circle cx="0" cy="11.3" r="1.4" fill="#333"/></g>
<circle cx="489.8" cy="338.2" r="1.1" fill="#444"/>
<line x1="497.00" y1="291.00" x2="533.00" y2="291.00" stroke="#555" stroke-width="0.9"/>
<line x1="515.40" y1="285.30" x2="562.60" y2="285.30" stroke="#555" stroke-width="0.9"/>
<line x1="486.00" y1="315.30" x2="562.60" y2="315.30" stroke="#555" stroke-width="0.9"/>
<line x1="531.80" y1="263.90" x2="531.80" y2="301.30" stroke="#555" stroke-width="0.9"/>
<path d="M531.80,285.30 L530.30,279.50 L533.30,279.50 Z" fill="#333"/>
<path d="M531.80,291.00 L533.30,296.80 L530.30,296.80 Z" fill="#333"/>
<text transform="translate(529.00,270.00) rotate(-90)" font-size="8.6" text-anchor="middle" fill="#333">50**</text>
<line x1="560.00" y1="285.30" x2="560.00" y2="315.30" stroke="#555" stroke-width="0.9"/>
<path d="M560.00,285.30 L561.50,291.10 L558.50,291.10 Z" fill="#333"/>
<path d="M560.00,315.30 L558.50,309.50 L561.50,309.50 Z" fill="#333"/>
<text transform="translate(555.50,300.00) rotate(-90)" font-size="8.6" text-anchor="middle" fill="#333">261</text>
<line x1="435.20" y1="412.30" x2="435.20" y2="448.70" stroke="#555" stroke-width="0.9"/>
<line x1="457.90" y1="330.00" x2="457.90" y2="429.00" stroke="#555" stroke-width="0.9"/>
<line x1="489.80" y1="309.00" x2="489.80" y2="448.00" stroke="#555" stroke-width="0.9"/>
<line x1="404.00" y1="429.00" x2="472.00" y2="429.00" stroke="#555" stroke-width="0.9"/>
<path d="M435.20,429.00 L429.40,430.50 L429.40,427.50 Z" fill="#333"/>
<path d="M457.90,429.00 L463.70,427.50 L463.70,430.50 Z" fill="#333"/>
<text transform="translate(417.30,427.20)" font-size="8.6" text-anchor="middle" fill="#333">200**</text>
<line x1="435.20" y1="447.90" x2="489.60" y2="447.90" stroke="#555" stroke-width="0.9"/>
<path d="M435.20,447.90 L441.00,446.40 L441.00,449.40 Z" fill="#333"/>
<path d="M489.60,447.90 L483.80,449.40 L483.80,446.40 Z" fill="#333"/>
<text transform="translate(462.60,445.60)" font-size="8.6" text-anchor="middle" fill="#333">478</text>
</svg>
</body></html>
